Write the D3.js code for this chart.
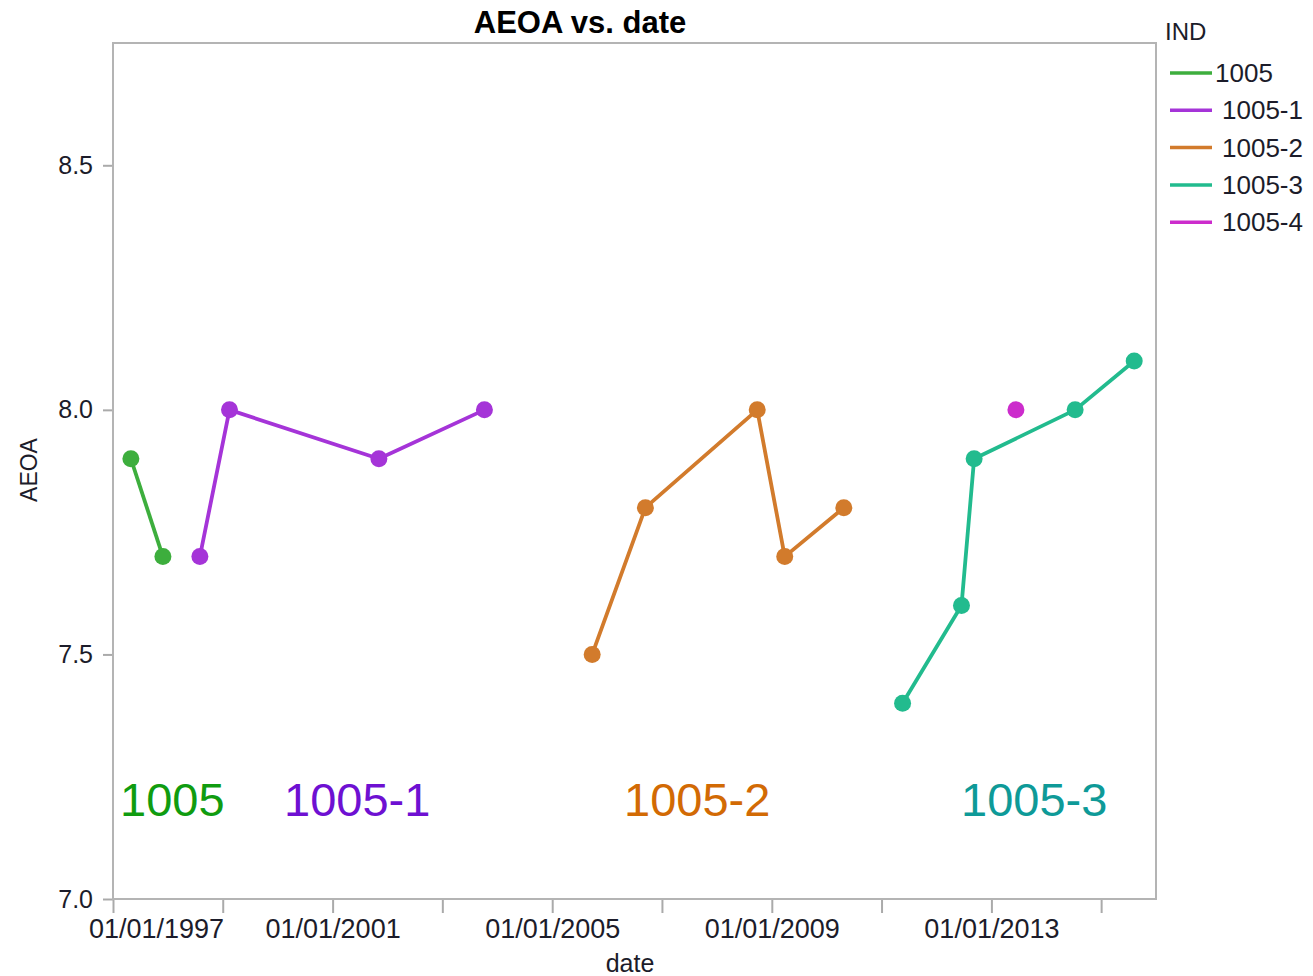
<!DOCTYPE html>
<html>
<head>
<meta charset="utf-8">
<script src="https://cdn.jsdelivr.net/npm/d3@7"></script>
<style>
  body { margin: 0; background: #fff; }
  svg text { font-family: "Liberation Sans", Arial, sans-serif; }
</style>
</head>
<body>
<div id="chart"></div>
<script>
// series data
const seriesNames = ["1005", "1005-1", "1005-2", "1005-3", "1005-4"];
const dates1005 = ["1997-04-30", "1997-11-29"];
const aeoa1005 = [7.9, 7.7];
const dates1005_1 = ["1998-08-02", "1999-02-15", "2001-11-05", "2003-10-08"];
const aeoa1005_1 = [7.7, 8.0, 7.9, 8.0];
const dates1005_2 = ["2005-09-24", "2006-09-13", "2008-09-26", "2009-03-28", "2010-04-25"];
const aeoa1005_2 = [7.5, 7.8, 8.0, 7.7, 7.8];
const dates1005_3 = ["2011-05-21", "2012-06-16", "2012-09-08", "2014-07-12", "2015-08-09"];
const aeoa1005_3 = [7.4, 7.6, 7.9, 8.0, 8.1];
const dates1005_4 = ["2013-06-13"];
const aeoa1005_4 = [8.0];

const yTicks = [7.0, 7.5, 8.0, 8.5];
const xTickYears = [1997, 1999, 2001, 2003, 2005, 2007, 2009, 2011, 2013, 2015];
const xLabelYears = [1997, 2001, 2005, 2009, 2013];

const lineColors = ["#3dae3d", "#a534d8", "#d27b2c", "#22bb8e", "#cc2ccc"];
const noteColors = ["#109c10", "#6e10d2", "#d26a04", "#0e9a98"];
const noteNames = ["1005", "1005-1", "1005-2", "1005-3"];
const noteX = [120, 284, 624, 961];

const parse = d3.timeParse("%Y-%m-%d");
const allDates = [dates1005, dates1005_1, dates1005_2, dates1005_3, dates1005_4];
const allVals = [aeoa1005, aeoa1005_1, aeoa1005_2, aeoa1005_3, aeoa1005_4];
const series = seriesNames.map((name, i) => ({
  name,
  color: lineColors[i],
  points: allDates[i].map((d, j) => ({ date: parse(d), value: allVals[i][j] }))
}));

const W = 1313, H = 976;
const plot = { left: 113, right: 1156, top: 43, bottom: 899 };

const svg = d3.select("#chart").append("svg")
  .attr("width", W).attr("height", H);

svg.append("rect").attr("width", W).attr("height", H).attr("fill", "#fff");

const x = d3.scaleTime()
  .domain([new Date(1997, 0, 1), new Date(2016, 0, 1)])
  .range([plot.left, plot.right]);
const y = d3.scaleLinear()
  .domain([7.0, 8.75])
  .range([plot.bottom, plot.top]);

// x axis
const xAxis = svg.append("g")
  .attr("transform", `translate(0,${plot.bottom})`)
  .call(d3.axisBottom(x)
    .tickValues(xTickYears.map(yr => new Date(yr, 0, 1)))
    .tickSize(14)
    .tickPadding(6)
    .tickFormat(d => xLabelYears.includes(d.getFullYear()) ? d3.timeFormat("%m/%d/%Y")(d) : ""));
xAxis.select(".domain").remove();
xAxis.selectAll(".tick line").attr("stroke", "#aaa").attr("stroke-width", 2);
xAxis.selectAll(".tick text")
  .attr("fill", "#1c1c2a")
  .style("font-size", "27px")
  .attr("dx", (d, i) => i === 0 ? 43 : 0);

// y axis
const yAxis = svg.append("g")
  .attr("transform", `translate(${plot.left},0)`)
  .call(d3.axisLeft(y).tickValues(yTicks).tickFormat(d3.format(".1f")).tickSize(10).tickPadding(10));
yAxis.select(".domain").remove();
yAxis.selectAll(".tick line").attr("stroke", "#aaa").attr("stroke-width", 2);
yAxis.selectAll(".tick text").attr("fill", "#1c1c2a").style("font-size", "25px");

// frame
svg.append("rect")
  .attr("x", plot.left).attr("y", plot.top)
  .attr("width", plot.right - plot.left).attr("height", plot.bottom - plot.top)
  .attr("fill", "none").attr("stroke", "#b4b4b4").attr("stroke-width", 2);

// title and axis names
svg.append("text")
  .attr("x", 580).attr("y", 33)
  .attr("text-anchor", "middle")
  .style("font-size", "31px").style("font-weight", "bold")
  .attr("fill", "#000")
  .text("AEOA vs. date");

svg.append("text")
  .attr("x", 630).attr("y", 972)
  .attr("text-anchor", "middle")
  .style("font-size", "25px").attr("fill", "#1c1c2a")
  .text("date");

svg.append("text")
  .attr("transform", "translate(37,470) rotate(-90)")
  .attr("text-anchor", "middle")
  .style("font-size", "23px").attr("fill", "#1c1c2a")
  .text("AEOA");

// lines and points
const line = d3.line().x(d => x(d.date)).y(d => y(d.value));
const g = svg.append("g");
series.forEach(s => {
  if (s.points.length > 1) {
    g.append("path")
      .datum(s.points)
      .attr("d", line)
      .attr("fill", "none")
      .attr("stroke", s.color)
      .attr("stroke-width", 3.8)
      .attr("stroke-linejoin", "round");
  }
  g.selectAll(null).data(s.points).enter()
    .append("circle")
    .attr("cx", d => x(d.date))
    .attr("cy", d => y(d.value))
    .attr("r", 8.5)
    .attr("fill", s.color);
});

// big series notes
svg.selectAll(".note").data(noteNames).enter()
  .append("text")
  .attr("class", "note")
  .attr("x", (d, i) => noteX[i])
  .attr("y", 816)
  .style("font-size", "47px")
  .attr("fill", (d, i) => noteColors[i])
  .text(d => d);

// legend
const legend = svg.append("g");
legend.append("text")
  .attr("x", 1165).attr("y", 40)
  .style("font-size", "24px").attr("fill", "#1c1c2a")
  .text("IND");
const items = legend.selectAll(".item").data(series).enter()
  .append("g").attr("class", "item")
  .attr("transform", (d, i) => `translate(0,${73 + i * 37.3})`);
items.append("line")
  .attr("x1", 1170).attr("x2", 1212)
  .attr("stroke", d => d.color).attr("stroke-width", 3.5);
items.append("text")
  .attr("x", (d, i) => i === 0 ? 1215 : 1222)
  .attr("y", 9)
  .style("font-size", "26px").attr("fill", "#1c1c2a")
  .text(d => d.name);
</script>
</body>
</html>
